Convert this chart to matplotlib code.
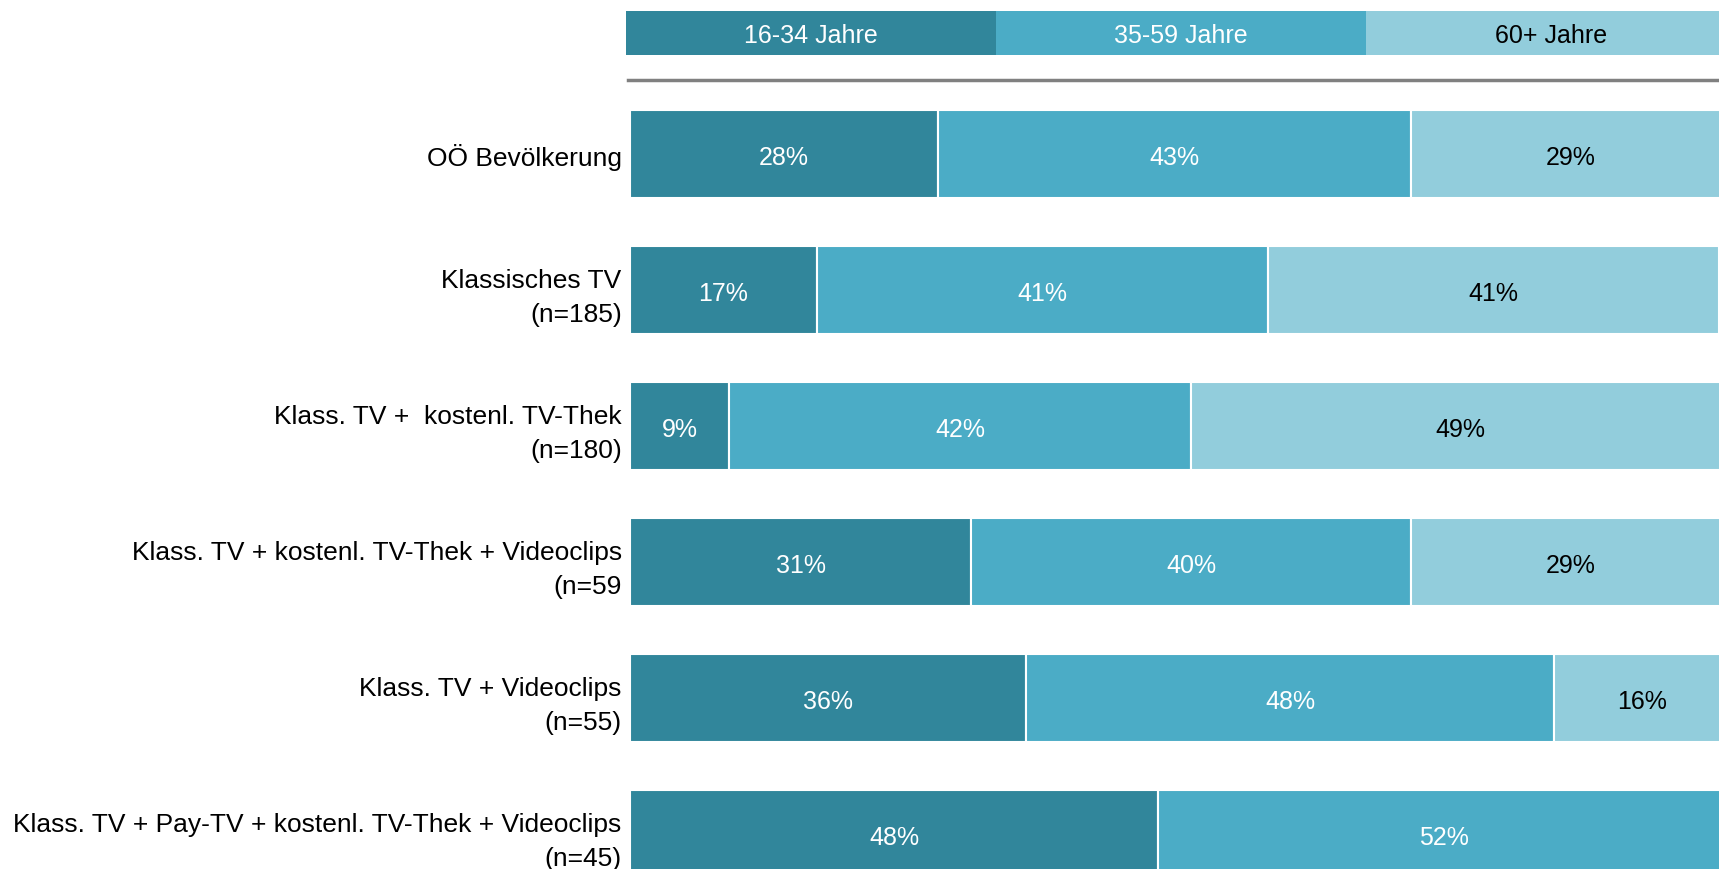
import numpy as np
import matplotlib.pyplot as plt
from matplotlib.lines import Line2D

plt.rcParams['font.family'] = ['Liberation Sans', 'DejaVu Sans']

categories = ["OÖ Bevölkerung",
              "Klassisches TV\n(n=185)",
              "Klass. TV +  kostenl. TV-Thek\n(n=180)",
              "Klass. TV + kostenl. TV-Thek + Videoclips\n(n=59",
              "Klass. TV + Videoclips\n(n=55)",
              "Klass. TV + Pay-TV + kostenl. TV-Thek + Videoclips\n(n=45)"]
age_groups = ["16-34 Jahre", "35-59 Jahre", "60+ Jahre"]
young = [28, 17, 9, 31, 36, 48]
middle = [43, 41, 42, 40, 48, 52]
old = [29, 41, 49, 29, 16, 0]

colors = ["#31869B", "#4BACC6", "#92CDDC"]
text_colors = ["white", "white", "black"]

W, H = 1719, 870
fig = plt.figure(figsize=(W / 100, H / 100), dpi=100)

# main bars, axes mapped to pixel positions
x0 = 630
ax = fig.add_axes([x0 / W, 0, (W - x0) / W, 1])
ax.set_xlim(0, (W - x0) / 11.0)
ax.set_ylim((H - 155) / 136, -155 / 136)

y = np.arange(len(categories))
series = [young, middle, old]
left = np.zeros(len(categories))
for vals, c, tc in zip(series, colors, text_colors):
    vals = np.array(vals, dtype=float)
    ax.barh(y, vals, left=left, height=0.645, color=c, edgecolor="white", linewidth=1.5)
    for yi, l, v in zip(y, left, vals):
        if v > 0:
            ax.text(l + v / 2, yi + 0.02, f"{v:.0f}%", ha="center", va="center",
                    color=tc, fontsize=18)
    left += vals

ax.set_yticks(y)
ax.set_yticklabels(categories, fontsize=19, linespacing=1.5, ha="right")
ax.tick_params(axis="y", length=0, pad=6)
ax.set_xticks([])
for s in ax.spines.values():
    s.set_visible(False)

# legend strip on top
lax = fig.add_axes([626 / W, 1 - 56 / H, (W - 626) / W, 44 / H])
lax.set_xlim(0, 1093 / 370.0)
lax.set_ylim(-0.5, 0.5)
for i, (name, c, tc) in enumerate(zip(age_groups, colors, text_colors)):
    lax.barh(0, 1, left=i, height=1, color=c)
    lax.text(i + 0.5, -0.04, name, ha="center", va="center", color=tc, fontsize=18)
lax.axis("off")

fig.add_artist(Line2D([628 / W, 1], [1 - 81 / H, 1 - 81 / H], color="#808080", linewidth=2.5))

fig.savefig("out.png", dpi=100)
